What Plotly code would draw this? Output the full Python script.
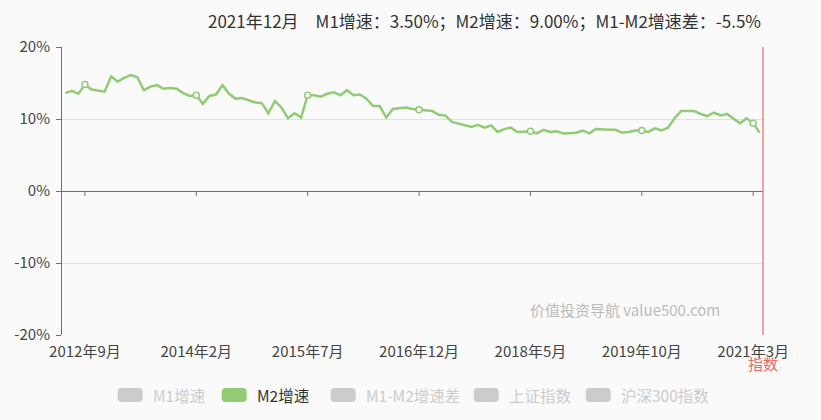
import plotly.graph_objects as go

# ---------------- data ----------------
start_year, start_month = 2012, 6
n_months = 107
months = []
y, m = start_year, start_month
for _ in range(n_months):
    months.append(f"{y}年{m}月")
    m += 1
    if m > 12:
        m = 1
        y += 1

m2_growth = [
    13.6, 13.9, 13.5, 14.8, 14.1, 13.9, 13.8,                      # 2012 Jun-Dec
    15.9, 15.2, 15.7, 16.1, 15.8, 14.0, 14.5, 14.7, 14.2, 14.3, 14.2, 13.6,  # 2013
    13.2, 13.3, 12.1, 13.2, 13.4, 14.7, 13.5, 12.8, 12.9, 12.6, 12.3, 12.2,  # 2014
    10.8, 12.5, 11.6, 10.1, 10.8, 10.2, 13.3, 13.3, 13.1, 13.5, 13.7, 13.3,  # 2015
    14.0, 13.3, 13.4, 12.8, 11.8, 11.8, 10.2, 11.4, 11.5, 11.6, 11.4, 11.3,  # 2016
    11.3, 11.1, 10.6, 10.5, 9.6, 9.4, 9.2, 8.9, 9.2, 8.8, 9.1, 8.2,          # 2017
    8.6, 8.8, 8.2, 8.3, 8.3, 8.0, 8.5, 8.2, 8.3, 8.0, 8.0, 8.1,              # 2018
    8.4, 8.0, 8.6, 8.5, 8.5, 8.5, 8.1, 8.2, 8.4, 8.4, 8.2, 8.7,              # 2019
    8.4, 8.8, 10.1, 11.1, 11.1, 11.1, 10.7, 10.4, 10.9, 10.5, 10.7, 10.1,    # 2020
    9.4, 10.1, 9.4, 8.1,                                            # 2021 Jan-Apr
]

tick_labels = ["2012年9月", "2014年2月", "2015年7月", "2016年12月",
               "2018年5月", "2019年10月", "2021年3月"]
y_ticks = [-20, -10, 0, 10, 20]
y_tick_text = [f"{v}%" for v in y_ticks]
legend_names = ["M1增速", "M2增速", "M1-M2增速差", "上证指数", "沪深300指数"]
legend_active = [False, True, False, False, False]
title_text = "2021年12月　M1增速：3.50%；M2增速：9.00%；M1-M2增速差：-5.5%"
watermark = "价值投资导航 value500.com"
right_axis_name = "指数"

# ---------------- style ----------------
W, H = 821, 420
L, R, T, B = 62.3, 57.7, 47, 85
PW, PH = W - L - R, H - T - B
GREEN = "#91cc75"
GREY_OFF = "#cccccc"
AXIS = "#6e7079"
TXT = "#444444"
BG = "#fafafa"
FONT = "Noto Sans CJK SC"


def px_x(px):
    return (px - L) / PW


def px_y(py):
    return (H - B - py) / PH


fig = go.Figure()

fig.add_trace(go.Scatter(
    x=months, y=m2_growth, mode="lines",
    line=dict(color=GREEN, width=2.5),
    name="M2增速", showlegend=False,
    hovertemplate="%{x}<br>M2增速：%{y:.1f}%<extra></extra>",
))

marker_y = [m2_growth[months.index(t)] for t in tick_labels]
fig.add_trace(go.Scatter(
    x=tick_labels, y=marker_y, mode="markers",
    marker=dict(symbol="circle", size=6, color="#ffffff",
                line=dict(color=GREEN, width=1.5)),
    showlegend=False, hoverinfo="skip",
))

shapes = []
# tick marks on the zero line
for t in tick_labels:
    shapes.append(dict(type="line", xref="x", yref="y",
                       x0=t, x1=t, ysizemode="pixel", yanchor=0,
                       y0=0, y1=-5, line=dict(color=AXIS, width=1)))
# right red axis line
shapes.append(dict(type="line", xref="paper", yref="paper",
                   x0=1, x1=1, y0=0, y1=1,
                   line=dict(color="#ee6666", width=1.2)))

annotations = [
    dict(text=title_text, xref="paper", yref="paper", x=1, y=px_y(20),
         xanchor="right", yanchor="middle", showarrow=False,
         font=dict(family=FONT, size=17, color="#333333")),
    dict(text=watermark, xref="paper", yref="paper", x=px_x(625), y=px_y(309),
         xanchor="center", yanchor="middle", showarrow=False,
         font=dict(family=FONT, size=15, color="#bbbbbb")),
    dict(text=right_axis_name, xref="paper", yref="paper", x=1, y=px_y(363),
         xanchor="center", yanchor="middle", showarrow=False,
         font=dict(family=FONT, size=15, color="#ee6666")),
]

# custom legend
icon_left = [118, 222, 331, 474, 586]
leg_y = px_y(395)
icon_path = ("M 4,7 L 21,7 Q 25,7 25,3 L 25,-3 Q 25,-7 21,-7 "
             "L 4,-7 Q 0,-7 0,-3 L 0,3 Q 0,7 4,7 Z")
for name, active, xl in zip(legend_names, legend_active, icon_left):
    col = GREEN if active else GREY_OFF
    shapes.append(dict(type="path", xref="paper", yref="paper",
                       xsizemode="pixel", ysizemode="pixel",
                       xanchor=px_x(xl), yanchor=leg_y, path=icon_path,
                       fillcolor=col, line=dict(width=0)))
    annotations.append(dict(text=name, xref="paper", yref="paper",
                            x=px_x(xl + 33), y=leg_y, xanchor="left",
                            yanchor="middle", showarrow=False,
                            font=dict(family=FONT, size=15.5,
                                      color="#333333" if active else GREY_OFF)))

fig.update_layout(
    width=W, height=H,
    margin=dict(l=L, r=R, t=T, b=B, pad=0),
    paper_bgcolor=BG, plot_bgcolor=BG,
    font=dict(family=FONT, size=14, color=TXT),
    showlegend=False,
    shapes=shapes, annotations=annotations,
    xaxis=dict(type="category", categoryorder="array", categoryarray=months,
               range=[-0.5, n_months - 0.5],
               tickmode="array", tickvals=tick_labels, ticktext=tick_labels,
               showgrid=False, showline=False, zeroline=False, ticks="",
               ticklabelstandoff=6,
               tickfont=dict(family=FONT, size=15, color=TXT)),
    yaxis=dict(range=[-20, 20], tickmode="array", tickvals=y_ticks,
               ticktext=y_tick_text,
               showgrid=True, gridcolor="#e0e0e0", gridwidth=1,
               zeroline=True, zerolinecolor=AXIS, zerolinewidth=1,
               showline=True, linecolor=AXIS, linewidth=1,
               ticks="outside", ticklen=5, tickcolor=AXIS,
               ticklabelstandoff=3,
               tickfont=dict(family=FONT, size=15, color=TXT)),
    hovermode="closest",
)

fig.write_html("out.html",
               config={"displayModeBar": False},
               post_script="document.body.style.margin='0';"
                           "document.body.style.overflow='hidden';")
